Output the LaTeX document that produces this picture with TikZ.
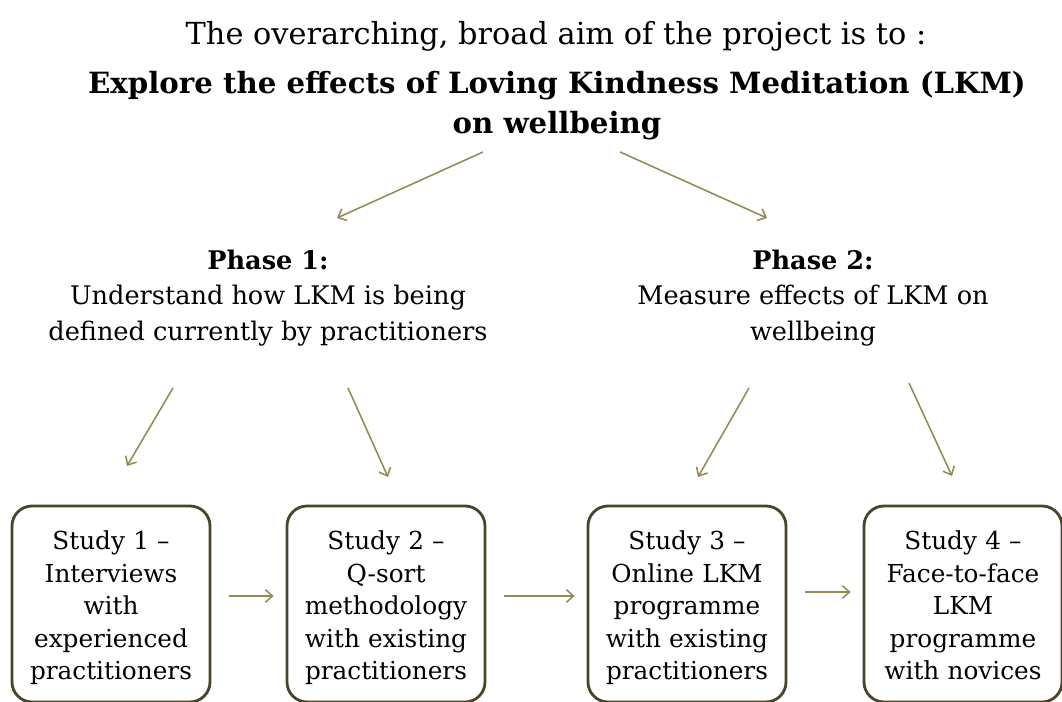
\documentclass[tikz,border=0pt]{standalone}
\usepackage{fontspec}
\setmainfont{DejaVu Serif}
\usetikzlibrary{arrows,arrows.meta,shapes}
\usetikzlibrary{calc}
\definecolor{arrowtan}{HTML}{948A54}
\definecolor{boxbrown}{HTML}{4A452A}
\tikzstyle{study}=[rectangle,rounded corners=0.5cm,draw=boxbrown,line width=2pt,minimum width=4.95cm,minimum height=4.9cm,text width=4.8cm,align=center,inner sep=0pt,font=\fontsize{17.6}{23.1}\selectfont]
\tikzstyle{phase}=[align=center,font=\fontsize{18.2}{25}\selectfont]
\tikzstyle{edge} = [draw,arrowtan,line width=1.1pt,-{Straight Barb[length=5pt,width=9pt]}]
\tikzstyle{aimtext} = [align=center,font=\fontsize{20.8}{28.5}\selectfont\bfseries]

\begin{document}
\begin{tikzpicture}[scale=1, auto,swap]

    \useasboundingbox (0,0) rectangle (26.55,17.55);

    \node[font=\fontsize{21.6}{26}\selectfont] (title) at (13.9,16.65) {The overarching, broad aim of the project is to :};
    \node[aimtext] (aim) at (13.925,14.9) {Explore the effects of Loving Kindness Meditation (LKM)\\on wellbeing};

    \node[phase] (phase1) at (6.7,10.1) {\textbf{Phase 1:}\\Understand how LKM is being\\defined currently by practitioners};
    \node[phase] (phase2) at (20.325,10.1) {\textbf{Phase 2:}\\Measure effects of LKM on\\wellbeing};

    \foreach \pos/ \name/ \txt in {{(2.775,2.45)/s1/{Study 1 --\\Interviews\\with\\experienced\\practitioners}},
        {(9.65,2.45)/s2/{Study 2 --\\Q-sort\\methodology\\with existing\\practitioners}},
        {(17.175,2.45)/s3/{Study 3 --\\Online LKM\\programme\\with existing\\practitioners}},
        {(24.075,2.45)/s4/{Study 4 --\\Face-to-face\\LKM\\programme\\with novices}}}
        \node[study] (\name) at \pos {\rule{0pt}{22pt}\txt\strut};

    % ends of the slanted arrows
    \foreach \x/ \y/ \name in {12.075/13.75/aimL, 8.425/12.1/topL, 15.5/13.75/aimR, 19.175/12.1/topR,
        4.325/7.85/p1a, 3.175/5.9/s1top, 8.7/7.85/p1b, 9.7/5.625/s2top,
        18.725/7.85/p2a, 17.45/5.625/s3top, 22.725/7.975/p2b, 23.8/5.65/s4top}
        \coordinate (\name) at (\x,\y);

    \foreach \source/ \dest in {aimL/topL, aimR/topR, p1a/s1top, p1b/s2top, p2a/s3top, p2b/s4top}
        \path[edge] (\source) -- (\dest);

    % studies in a row
    \foreach \source/ \dest/ \dy in {s1/s2/0.2, s2/s3/0.2, s3/s4/0.3}
        \path[edge, shorten <=0.43cm, shorten >=0.3cm] ([yshift=\dy cm]\source.east) -- ([yshift=\dy cm]\dest.west);

\end{tikzpicture}
\end{document}
